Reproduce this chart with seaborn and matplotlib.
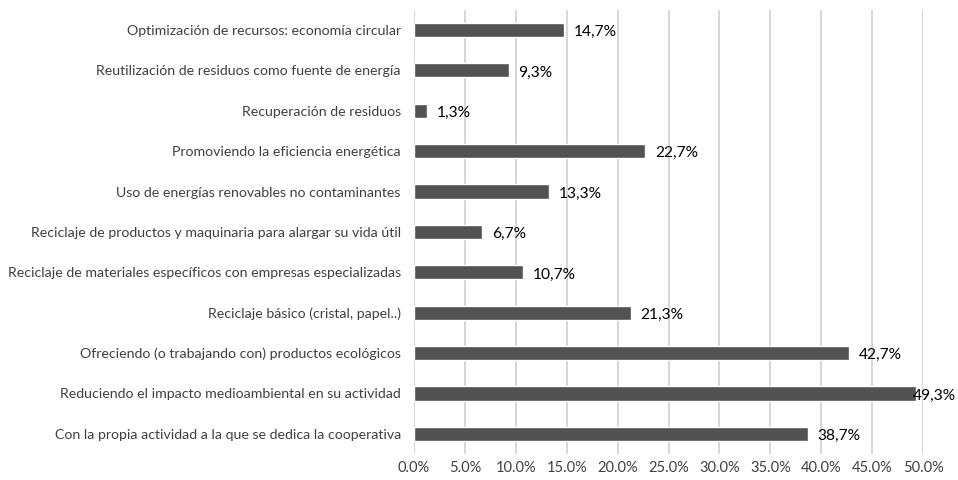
import matplotlib
matplotlib.use("Agg")
import matplotlib.pyplot as plt
import seaborn as sns
import pandas as pd

categories = [
    "Optimización de recursos: economía circular",
    "Reutilización de residuos como fuente de energía",
    "Recuperación de residuos",
    "Promoviendo la eficiencia energética",
    "Uso de energías renovables no contaminantes",
    "Reciclaje de productos y maquinaria para alargar su vida útil",
    "Reciclaje de materiales específicos con empresas especializadas",
    "Reciclaje básico (cristal, papel..)",
    "Ofreciendo (o trabajando con) productos ecológicos",
    "Reduciendo el impacto medioambiental en su actividad",
    "Con la propia actividad a la que se dedica la cooperativa",
]
values = [14.7, 9.3, 1.3, 22.7, 13.3, 6.7, 10.7, 21.3, 42.7, 49.3, 38.7]
xticks = [0, 5, 10, 15, 20, 25, 30, 35, 40, 45, 50]

sns.set_theme(style="white")
plt.rcParams['font.family'] = ['Lato', 'DejaVu Sans']

df = pd.DataFrame({"cat": categories, "val": values})

fig = plt.figure(figsize=(9.58, 4.8), dpi=100)
ax = fig.add_axes([0.4322, 0.054, 0.5313, 0.9256])

sns.barplot(data=df, x="val", y="cat", orient="h", color="#525252",
            width=0.35, saturation=1, ax=ax, zorder=3)

ax.set_xlim(0, 50)
ax.set_ylim(10.5, -0.5)
ax.set_xticks(xticks)
ax.set_xticklabels([f"{t:.1f}%" for t in xticks])
ax.grid(axis="x", color="#d3d3d3", linewidth=1.3, zorder=0)
ax.set_xlabel("")
ax.set_ylabel("")
for s in ax.spines.values():
    s.set_visible(False)
ax.tick_params(axis="y", length=0, pad=9.5, labelsize=10.2, labelcolor="#404040")
ax.tick_params(axis="x", length=0, pad=5, labelsize=10.5, labelcolor="#404040")

for i, v in enumerate(values):
    # the longest bar's label overlaps the bar end (no room on the right)
    dx = -2.5 if v > 48 else 7
    ax.annotate(f"{v:.1f}".replace(".", ",") + "%", xy=(v, i), xytext=(dx, -1.5),
                textcoords="offset points", va="center", ha="left",
                fontsize=11.2, color="black", annotation_clip=False, zorder=4)

fig.savefig("out.png", dpi=100)
